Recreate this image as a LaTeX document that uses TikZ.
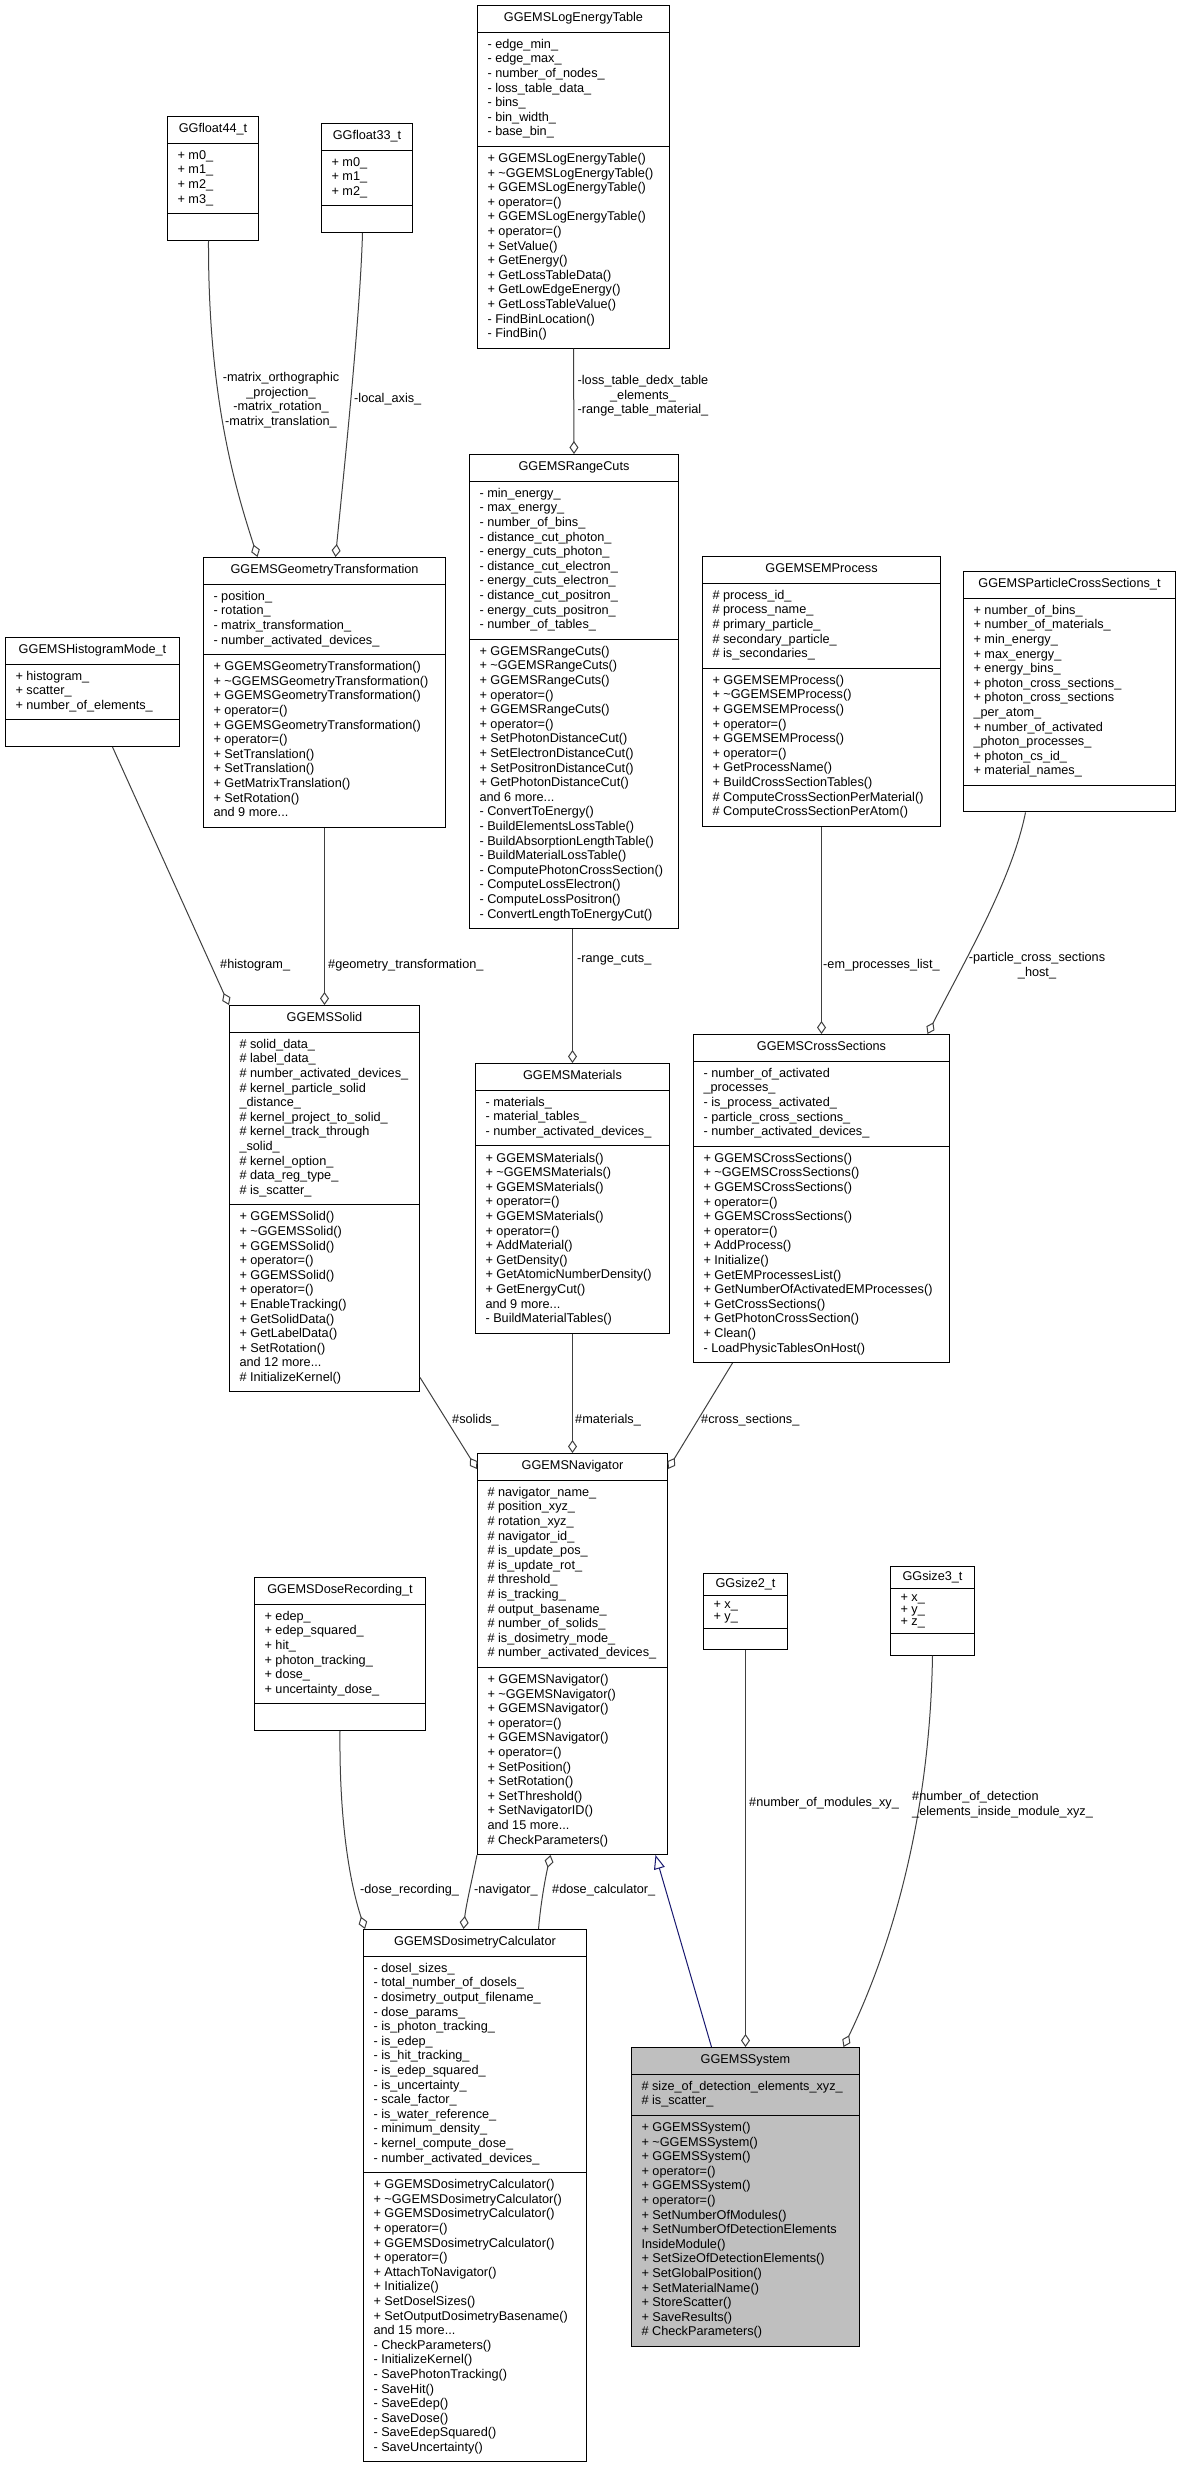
\documentclass[tikz,border=0pt]{standalone}
\usepackage{fontspec}
\setmainfont{Liberation Sans}
\usetikzlibrary{shapes.multipart,arrows.meta}
\definecolor{edgegray}{HTML}{404040}
\definecolor{inhblue}{HTML}{191970}
\definecolor{sysgray}{HTML}{BFBFBF}
\newcommand{\umlclass}[3]{\centering\strut#1\strut\par
  \nodepart{two}\leftskip=6pt\strut#2\strut\par
  \nodepart{three}\leftskip=6pt\strut#3\strut\par}
\begin{document}
\begin{tikzpicture}
  [x=1pt,y=-1pt,
   cls/.style={rectangle split, rectangle split parts=3, draw=black, line width=1pt,
     fill=white, anchor=north west, text width=#1pt, align=flush left,
     inner xsep=4pt, inner ysep=5.5pt, font=\fontsize{12.7}{14.6}\selectfont},
   tinycls/.style={cls=#1, inner ysep=4pt, font=\fontsize{12.7}{12.2}\selectfont},
   agg/.style={draw=edgegray, line width=1pt, -{Diamond[open,length=13pt,width=9pt]}},
   inh/.style={draw=inhblue, line width=1pt, -{Triangle[open,length=14pt,width=11pt]}},
   lbl/.style={inner sep=0pt, anchor=west, font=\fontsize{12.7}{14.6}\selectfont}]
  \path[use as bounding box, fill=white] (0,0) rectangle (1180,2467);

  \node[cls=83] (f44) at (167,116) {\umlclass{GGfloat44\_t}{+ m0\_\\+ m1\_\\+ m2\_\\+ m3\_}{}};
  \node[cls=83] (f33) at (321,123) {\umlclass{GGfloat33\_t}{+ m0\_\\+ m1\_\\+ m2\_}{}};
  \node[cls=184] (log) at (477,5) {\umlclass{GGEMSLogEnergyTable}
    {- edge\_min\_\\- edge\_max\_\\- number\_of\_nodes\_\\- loss\_table\_data\_\\- bins\_\\- bin\_width\_\\- base\_bin\_}
    {+ GGEMSLogEnergyTable()\\+ \textasciitilde GGEMSLogEnergyTable()\\+ GGEMSLogEnergyTable()\\+ operator=()\\+ GGEMSLogEnergyTable()\\+ operator=()\\+ SetValue()\\+ GetEnergy()\\+ GetLossTableData()\\+ GetLowEdgeEnergy()\\+ GetLossTableValue()\\- FindBinLocation()\\- FindBin()}};
  \node[cls=201] (rng) at (469,454) {\umlclass{GGEMSRangeCuts}
    {- min\_energy\_\\- max\_energy\_\\- number\_of\_bins\_\\- distance\_cut\_photon\_\\- energy\_cuts\_photon\_\\- distance\_cut\_electron\_\\- energy\_cuts\_electron\_\\- distance\_cut\_positron\_\\- energy\_cuts\_positron\_\\- number\_of\_tables\_}
    {+ GGEMSRangeCuts()\\+ \textasciitilde GGEMSRangeCuts()\\+ GGEMSRangeCuts()\\+ operator=()\\+ GGEMSRangeCuts()\\+ operator=()\\+ SetPhotonDistanceCut()\\+ SetElectronDistanceCut()\\+ SetPositronDistanceCut()\\+ GetPhotonDistanceCut()\\and 6 more...\\- ConvertToEnergy()\\- BuildElementsLossTable()\\- BuildAbsorptionLengthTable()\\- BuildMaterialLossTable()\\- ComputePhotonCrossSection()\\- ComputeLossElectron()\\- ComputeLossPositron()\\- ConvertLengthToEnergyCut()}};
  \node[cls=166] (hist) at (5,637) {\umlclass{GGEMSHistogramMode\_t}
    {+ histogram\_\\+ scatter\_\\+ number\_of\_elements\_}{}};
  \node[cls=234] (geo) at (203,557) {\umlclass{GGEMSGeometryTransformation}
    {- position\_\\- rotation\_\\- matrix\_transformation\_\\- number\_activated\_devices\_}
    {+ GGEMSGeometryTransformation()\\+ \textasciitilde GGEMSGeometryTransformation()\\+ GGEMSGeometryTransformation()\\+ operator=()\\+ GGEMSGeometryTransformation()\\+ operator=()\\+ SetTranslation()\\+ SetTranslation()\\+ GetMatrixTranslation()\\+ SetRotation()\\and 9 more...}};
  \node[cls=230] (emp) at (702,556) {\umlclass{GGEMSEMProcess}
    {\# process\_id\_\\\# process\_name\_\\\# primary\_particle\_\\\# secondary\_particle\_\\\# is\_secondaries\_}
    {+ GGEMSEMProcess()\\+ \textasciitilde GGEMSEMProcess()\\+ GGEMSEMProcess()\\+ operator=()\\+ GGEMSEMProcess()\\+ operator=()\\+ GetProcessName()\\+ BuildCrossSectionTables()\\\# ComputeCrossSectionPerMaterial()\\\# ComputeCrossSectionPerAtom()}};
  \node[cls=204] (pcs) at (963,571) {\umlclass{GGEMSParticleCrossSections\_t}
    {+ number\_of\_bins\_\\+ number\_of\_materials\_\\+ min\_energy\_\\+ max\_energy\_\\+ energy\_bins\_\\+ photon\_cross\_sections\_\\+ photon\_cross\_sections\\\_per\_atom\_\\+ number\_of\_activated\\\_photon\_processes\_\\+ photon\_cs\_id\_\\+ material\_names\_}{}};
  \node[cls=182] (sol) at (229,1005) {\umlclass{GGEMSSolid}
    {\# solid\_data\_\\\# label\_data\_\\\# number\_activated\_devices\_\\\# kernel\_particle\_solid\\\_distance\_\\\# kernel\_project\_to\_solid\_\\\# kernel\_track\_through\\\_solid\_\\\# kernel\_option\_\\\# data\_reg\_type\_\\\# is\_scatter\_}
    {+ GGEMSSolid()\\+ \textasciitilde GGEMSSolid()\\+ GGEMSSolid()\\+ operator=()\\+ GGEMSSolid()\\+ operator=()\\+ EnableTracking()\\+ GetSolidData()\\+ GetLabelData()\\+ SetRotation()\\and 12 more...\\\# InitializeKernel()}};
  \node[cls=186] (mat) at (475,1063) {\umlclass{GGEMSMaterials}
    {- materials\_\\- material\_tables\_\\- number\_activated\_devices\_}
    {+ GGEMSMaterials()\\+ \textasciitilde GGEMSMaterials()\\+ GGEMSMaterials()\\+ operator=()\\+ GGEMSMaterials()\\+ operator=()\\+ AddMaterial()\\+ GetDensity()\\+ GetAtomicNumberDensity()\\+ GetEnergyCut()\\and 9 more...\\- BuildMaterialTables()}};
  \node[cls=248] (xs) at (693,1034) {\umlclass{GGEMSCrossSections}
    {- number\_of\_activated\\\_processes\_\\- is\_process\_activated\_\\- particle\_cross\_sections\_\\- number\_activated\_devices\_}
    {+ GGEMSCrossSections()\\+ \textasciitilde GGEMSCrossSections()\\+ GGEMSCrossSections()\\+ operator=()\\+ GGEMSCrossSections()\\+ operator=()\\+ AddProcess()\\+ Initialize()\\+ GetEMProcessesList()\\+ GetNumberOfActivatedEMProcesses()\\+ GetCrossSections()\\+ GetPhotonCrossSection()\\+ Clean()\\- LoadPhysicTablesOnHost()}};
  \node[cls=182] (nav) at (477,1453) {\umlclass{GGEMSNavigator}
    {\# navigator\_name\_\\\# position\_xyz\_\\\# rotation\_xyz\_\\\# navigator\_id\_\\\# is\_update\_pos\_\\\# is\_update\_rot\_\\\# threshold\_\\\# is\_tracking\_\\\# output\_basename\_\\\# number\_of\_solids\_\\\# is\_dosimetry\_mode\_\\\# number\_activated\_devices\_}
    {+ GGEMSNavigator()\\+ \textasciitilde GGEMSNavigator()\\+ GGEMSNavigator()\\+ operator=()\\+ GGEMSNavigator()\\+ operator=()\\+ SetPosition()\\+ SetRotation()\\+ SetThreshold()\\+ SetNavigatorID()\\and 15 more...\\\# CheckParameters()}};
  \node[cls=163] (dose) at (254,1577) {\umlclass{GGEMSDoseRecording\_t}
    {+ edep\_\\+ edep\_squared\_\\+ hit\_\\+ photon\_tracking\_\\+ dose\_\\+ uncertainty\_dose\_}{}};
  \node[cls=215] (dosi) at (363,1929) {\umlclass{GGEMSDosimetryCalculator}
    {- dosel\_sizes\_\\- total\_number\_of\_dosels\_\\- dosimetry\_output\_filename\_\\- dose\_params\_\\- is\_photon\_tracking\_\\- is\_edep\_\\- is\_hit\_tracking\_\\- is\_edep\_squared\_\\- is\_uncertainty\_\\- scale\_factor\_\\- is\_water\_reference\_\\- minimum\_density\_\\- kernel\_compute\_dose\_\\- number\_activated\_devices\_}
    {+ GGEMSDosimetryCalculator()\\+ \textasciitilde GGEMSDosimetryCalculator()\\+ GGEMSDosimetryCalculator()\\+ operator=()\\+ GGEMSDosimetryCalculator()\\+ operator=()\\+ AttachToNavigator()\\+ Initialize()\\+ SetDoselSizes()\\+ SetOutputDosimetryBasename()\\and 15 more...\\- CheckParameters()\\- InitializeKernel()\\- SavePhotonTracking()\\- SaveHit()\\- SaveEdep()\\- SaveDose()\\- SaveEdepSquared()\\- SaveUncertainty()}};
  \node[tinycls=76] (s2) at (703,1573) {\umlclass{GGsize2\_t}{+ x\_\\+ y\_}{}};
  \node[tinycls=76] (s3) at (890,1566) {\umlclass{GGsize3\_t}{+ x\_\\+ y\_\\+ z\_}{}};
  \node[cls=220, fill=sysgray] (sys) at (631,2047) {\umlclass{GGEMSSystem}
    {\# size\_of\_detection\_elements\_xyz\_\\\# is\_scatter\_}
    {+ GGEMSSystem()\\+ \textasciitilde GGEMSSystem()\\+ GGEMSSystem()\\+ operator=()\\+ GGEMSSystem()\\+ operator=()\\+ SetNumberOfModules()\\+ SetNumberOfDetectionElements\\InsideModule()\\+ SetSizeOfDetectionElements()\\+ SetGlobalPosition()\\+ SetMaterialName()\\+ StoreScatter()\\+ SaveResults()\\\# CheckParameters()}};

  % aggregation edges
  \foreach \from/\to in {log/rng, geo/sol, emp/xs, mat/nav, s2/sys}
    \draw[agg] (\from.south) -- (\to.north);
  \draw[agg] (rng.south -| mat.north) -- (mat.north);
  \draw[agg] ([xshift=-4.5pt]f44.south) .. controls (208,400) and (236,490) .. ([xshift=-67pt]geo.north);
  \draw[agg] ([xshift=-4.5pt]f33.south) .. controls (360,320) and (343,480) .. ([xshift=11pt]geo.north);
  \draw[agg] ([xshift=20pt]hist.south) -- (sol.north west);
  \draw[agg] ([xshift=-44pt]pcs.south) .. controls (1012,880) and (965,960) .. ([xshift=106pt]xs.north);
  \draw[agg] ([yshift=15pt]sol.south east) -- ([yshift=-16pt]nav.north west);
  \draw[agg] ([xshift=-89pt]xs.south) -- ([yshift=-16pt]nav.north east);
  \draw[agg] (dose.south) .. controls (339,1830) and (352,1890) .. ([xshift=2pt]dosi.north west);
  \draw[agg] (nav.south west) .. controls (472,1880) and (466,1905) .. ([xshift=-11.5pt]dosi.north);
  \draw[agg] ([xshift=63.5pt]dosi.north) .. controls (541,1900) and (546,1875) .. ([xshift=-22pt]nav.south);
  \draw[agg] (s3.south) .. controls (930,1810) and (895,1940) .. ([xshift=98pt]sys.north);
  % inheritance
  \draw[inh] ([xshift=-34pt]sys.north) -- ([xshift=83pt]nav.south);

  % edge labels
  \node[lbl, anchor=north, align=center] (l1) at (281,372) {-matrix\_orthographic\\\_projection\_\\-matrix\_rotation\_\\-matrix\_translation\_};
  \node[lbl] (l2) at (354,399) {-local\_axis\_};
  \node[lbl, anchor=north, align=center] (l3) at (643,375) {-loss\_table\_dedx\_table\\\_elements\_\\-range\_table\_material\_};
  \node[lbl] (l4) at (220,965) {\#histogram\_};
  \node[lbl] (l5) at (328,965) {\#geometry\_transformation\_};
  \node[lbl] (l6) at (577,960) {-range\_cuts\_};
  \node[lbl] (l7) at (823,965) {-em\_processes\_list\_};
  \node[lbl, anchor=north, align=center] (l8) at (1037,952) {-particle\_cross\_sections\\\_host\_};
  \node[lbl] (l9) at (452,1420) {\#solids\_};
  \node[lbl] (l10) at (575,1420) {\#materials\_};
  \node[lbl] (l11) at (701,1420) {\#cross\_sections\_};
  \node[lbl] (l12) at (360,1890) {-dose\_recording\_};
  \node[lbl] (l13) at (474,1890) {-navigator\_};
  \node[lbl] (l14) at (552,1890) {\#dose\_calculator\_};
  \node[lbl] (l15) at (749,1803) {\#number\_of\_modules\_xy\_};
  \node[lbl, anchor=north west, align=left] (l16) at (912,1791) {\#number\_of\_detection\\\_elements\_inside\_module\_xyz\_};
\end{tikzpicture}
\end{document}
